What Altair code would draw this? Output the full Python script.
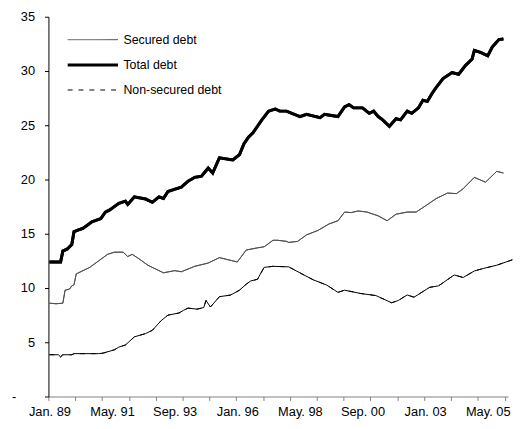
import altair as alt
import pandas as pd

series_names = ["Secured debt", "Total debt", "Non-secured debt"]

# month index: 0 = Jan. 1989
total_month = [0, 5, 6, 8, 10, 11, 13, 15, 19, 23, 25, 27, 31, 34, 35, 38, 43, 46, 49, 51,
               53, 59, 62, 65, 68, 71, 73, 76, 82, 85, 87, 89, 91, 95, 98, 101, 103, 106, 112, 115,
               121, 123, 129, 132, 134, 136, 140, 143, 145, 147, 149, 152, 155, 157, 160, 162, 165, 167, 169, 171,
               173, 176, 180, 183, 186, 189, 190, 193, 196, 198, 201, 203]
total_value = [12.4, 12.4, 13.4, 13.6, 14.0, 15.2, 15.35, 15.5, 16.1, 16.4, 17.0, 17.2, 17.8, 18.0, 17.7, 18.4, 18.2, 17.9, 18.4, 18.25,
               18.9, 19.3, 19.85, 20.2, 20.3, 21.05, 20.6, 22.0, 21.8, 22.3, 23.3, 23.9, 24.3, 25.5, 26.3, 26.5, 26.3, 26.3, 25.8, 26.0,
               25.7, 26.0, 25.8, 26.7, 26.9, 26.6, 26.6, 26.1, 26.3, 25.8, 25.5, 24.9, 25.6, 25.5, 26.3, 26.1, 26.6, 27.3, 27.2, 27.9,
               28.5, 29.3, 29.85, 29.7, 30.5, 31.1, 31.9, 31.7, 31.4, 32.2, 32.9, 32.95]

secured_month = [0, 3, 6, 7, 9, 10, 11, 12, 18, 22, 26, 29, 33, 35, 37, 40, 44, 51, 56, 59,
                 65, 71, 76, 84, 88, 93, 96, 100, 102, 106, 107, 111, 115, 120, 125, 129, 132, 135, 138, 142,
                 147, 151, 155, 160, 164, 168, 173, 178, 182, 185, 190, 195, 200, 203]
secured_value = [8.6, 8.55, 8.6, 9.8, 9.9, 10.2, 10.3, 11.3, 11.9, 12.5, 13.1, 13.3, 13.3, 12.9, 13.1, 12.7, 12.1, 11.4, 11.6, 11.5,
                 12.0, 12.3, 12.8, 12.4, 13.5, 13.7, 13.8, 14.4, 14.4, 14.3, 14.2, 14.3, 14.9, 15.3, 15.9, 16.2, 17.0, 16.95, 17.1, 17.0,
                 16.65, 16.2, 16.8, 17.0, 17.0, 17.55, 18.25, 18.75, 18.7, 19.15, 20.2, 19.75, 20.75, 20.6]

nonsecured_month = [0, 4, 5, 6, 10, 11, 22, 24, 29, 31, 34, 38, 43, 46, 50, 53, 58, 60, 62, 66,
                    69, 70, 72, 76, 81, 85, 88, 90, 93, 96, 100, 107, 112, 118, 124, 129, 132, 139, 146, 153,
                    156, 160, 163, 170, 174, 181, 185, 190, 194, 200, 207]
nonsecured_value = [3.85, 3.85, 3.65, 3.85, 3.85, 3.95, 3.95, 4.0, 4.3, 4.55, 4.75, 5.5, 5.8, 6.1, 7.0, 7.5, 7.7, 7.95, 8.15, 8.05,
                    8.2, 8.85, 8.25, 9.2, 9.35, 9.8, 10.35, 10.65, 10.8, 11.9, 12.0, 11.95, 11.4, 10.75, 10.27, 9.6, 9.8, 9.5, 9.3, 8.64,
                    8.85, 9.36, 9.15, 10.06, 10.2, 11.2, 10.97, 11.57, 11.8, 12.1, 12.6]

x_label_months = [0, 28, 56, 84, 112, 140, 168, 196]
x_label_text = ["Jan. 89", "May. 91", "Sep. 93", "Jan. 96", "May. 98", "Sep. 00", "Jan. 03", "May. 05"]
x_tick_months = [-0.44, 11.56, 23.56, 35.56, 47.56, 59.56, 71.56, 83.56, 95.56, 107.56, 119.56,
                 131.56, 143.56, 155.56, 167.56, 179.56, 191.56, 203.56]
y_tick_values = [0, 5, 10, 15, 20, 25, 30, 35]

rows = []
for name, ms, vs in [("Secured debt", secured_month, secured_value),
                     ("Total debt", total_month, total_value),
                     ("Non-secured debt", nonsecured_month, nonsecured_value)]:
    for m, v in zip(ms, vs):
        rows.append({"series": name, "month": m, "value": v})
df = pd.DataFrame(rows)

FONT = "Liberation Sans"

label_arr = "[" + ",".join(str(m) for m in x_label_months) + "]"
text_arr = "[" + ",".join("'" + t + "'" for t in x_label_text) + "]"
x_label_expr = f"indexof({label_arr}, datum.value) >= 0 ? {text_arr}[indexof({label_arr}, datum.value)] : ''"

x_axis = alt.Axis(
    values=sorted(x_tick_months + x_label_months),
    labelExpr=x_label_expr,
    tickOpacity={"condition": {"test": f"indexof({label_arr}, datum.value) >= 0", "value": 0}, "value": 1},
    labelOverlap=False, labelFlush=False, grid=False, title=None,
    domainColor="#808080", tickColor="#808080", tickSize=4, labelPadding=5,
    labelFont=FONT, labelFontSize=13, labelColor="black", labelAngle=0,
)
y_axis = alt.Axis(
    values=y_tick_values,
    labelExpr="datum.value === 0 ? '-' : datum.label",
    labelPadding={"condition": {"test": "datum.value === 0", "value": 29}, "value": 10},
    grid=False, title=None, domainColor="black", tickColor="black", tickSize=4,
    labelFont=FONT, labelFontSize=13, labelColor="black",
)

x_enc = alt.X("month:Q", scale=alt.Scale(domain=[-0.44, 205.1], nice=False, zero=False), axis=x_axis)
y_enc = alt.Y("value:Q", scale=alt.Scale(domain=[0, 35], nice=False), axis=y_axis)

color_scale = alt.Scale(domain=series_names, range=["#4d4d4d", "#000000", "#000000"])
width_scale = alt.Scale(type="ordinal", domain=series_names, range=[1, 3, 1])
dash_scale = alt.Scale(domain=series_names, range=[[1, 0], [1, 0], [5, 6]])

legend = alt.Legend(
    title=None, orient="none", legendX=38.5, legendY=17,
    symbolType="M-5.1,0H5.1", symbolSize=100, labelFont=FONT, labelFontSize=12.5,
    labelColor="black", labelOffset=24.5, rowPadding=12.5,
)

legend_layer = alt.Chart(df).mark_line(clip=False).encode(
    x=x_enc, y=y_enc,
    color=alt.Color("series:N", scale=color_scale, legend=legend, sort=series_names),
    strokeWidth=alt.StrokeWidth("series:N", scale=width_scale, legend=legend, sort=series_names),
    strokeDash=alt.StrokeDash("series:N", scale=dash_scale, legend=legend, sort=series_names),
)

solid_layer = alt.Chart(df).mark_line(clip=False).encode(
    x=x_enc, y=y_enc,
    color=alt.Color("series:N", scale=color_scale, legend=legend, sort=series_names),
    strokeWidth=alt.StrokeWidth("series:N", scale=width_scale, legend=legend, sort=series_names),
)

chart = alt.layer(legend_layer, solid_layer).properties(
    width=466, height=385,
    autosize=alt.AutoSizeParams(type="none"),
    padding={"left": 41, "top": 6, "right": 8, "bottom": 25},
    background="white",
).configure_view(stroke=None)

chart.save("out.html", embed_options={"renderer": "svg", "actions": False})
